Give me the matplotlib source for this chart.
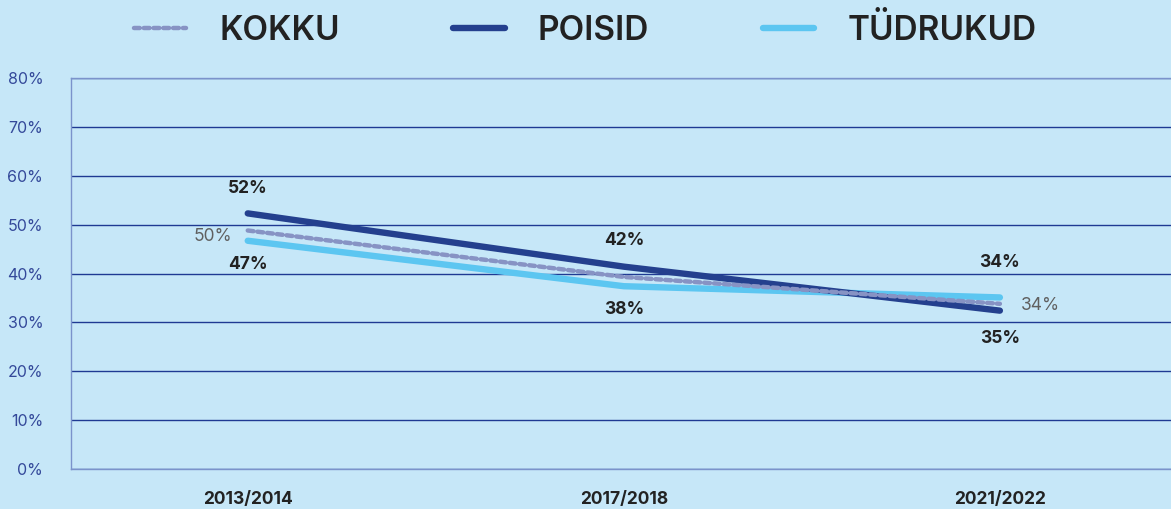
import matplotlib
matplotlib.use("Agg")
import matplotlib.pyplot as plt
from matplotlib.ticker import MultipleLocator, FuncFormatter

# ---- data ----
categories = ["2013/2014", "2017/2018", "2021/2022"]
kokku = [48.8, 39.3, 33.8]
poisid = [52.3, 41.4, 32.4]
tudrukud = [46.7, 37.4, 35.1]
kokku_labels = ["50%", "", "34%"]
poisid_labels = ["52%", "42%", "34%"]
tudrukud_labels = ["47%", "38%", "35%"]
series_names = ["KOKKU", "POISID", "TÜDRUKUD"]

BG = "#c6e7f8"
C_KOKKU = "#8793c4"
C_POISID = "#24408e"
C_TUD = "#5cc6f1"
GRID = "#1f3a93"
SPINE = "#7b93cb"
TICK = "#34499a"
DARK = "#222222"

plt.rcParams['font.family'] = ['Inter', 'DejaVu Sans']

fig = plt.figure(figsize=(11.71, 5.09), dpi=100, facecolor=BG)
ax = fig.add_axes([71/1171, 40/509, 1 - 71/1171, (469-78)/509])
ax.set_facecolor(BG)

x = list(range(len(categories)))
l1, = ax.plot(x, kokku, color=C_KOKKU, lw=3.2, ls=(0, (1.3, 0.9)),
              dash_capstyle='round', solid_capstyle='round', zorder=4)
l2, = ax.plot(x, poisid, color=C_POISID, lw=4.6, solid_capstyle='round', zorder=3)
l3, = ax.plot(x, tudrukud, color=C_TUD, lw=4.6, solid_capstyle='round', zorder=2)

ax.set_xlim(-0.47, 2.455)
ax.set_ylim(0, 80)
ax.yaxis.set_major_locator(MultipleLocator(10))
ax.yaxis.set_major_formatter(FuncFormatter(lambda v, p: f"{int(v)}%"))
ax.grid(axis='y', color=GRID, lw=1.0)
ax.set_axisbelow(True)
for s in ['left', 'bottom', 'top']:
    ax.spines[s].set_color(SPINE)
    ax.spines[s].set_linewidth(1.0)
ax.spines['right'].set_visible(False)
ax.tick_params(axis='y', length=0, pad=20, labelsize=11.5, labelcolor=TICK)
ax.tick_params(axis='x', length=0, pad=16, labelsize=12.5, labelcolor=DARK)
ax.set_xticks(x)
ax.set_xticklabels(categories, fontweight='bold')

# data labels
up_off = [18, 19, 25]
down_off = [-17, -17, -20]
for i in x:
    if poisid_labels[i]:
        ax.annotate(poisid_labels[i], (i, max(poisid[i], tudrukud[i])), xytext=(0, up_off[i]),
                    textcoords='offset points', ha='center', va='center',
                    fontsize=12.5, fontweight='bold', color=DARK)
    if tudrukud_labels[i]:
        ax.annotate(tudrukud_labels[i], (i, min(poisid[i], tudrukud[i])), xytext=(0, down_off[i]),
                    textcoords='offset points', ha='center', va='center',
                    fontsize=12.5, fontweight='bold', color=DARK)
ax.annotate(kokku_labels[0], (0, kokku[0]), xytext=(-11, -4), textcoords='offset points',
            ha='right', va='center', fontsize=12.5, color="#606060")
ax.annotate(kokku_labels[2], (2, kokku[2]), xytext=(15, -1.5), textcoords='offset points',
            ha='left', va='center', fontsize=12.5, color="#606060")

leg = fig.legend([l1, l2, l3], series_names, loc='center', bbox_to_anchor=(0.5, 1 - 30/509),
                 ncol=3, frameon=False, fontsize=24, handlelength=1.55, handletextpad=1.0,
                 columnspacing=3.4)
for t in leg.get_texts():
    t.set_fontweight('semibold')
    t.set_color(DARK)

fig.savefig("out.png", dpi=100, facecolor=BG)
